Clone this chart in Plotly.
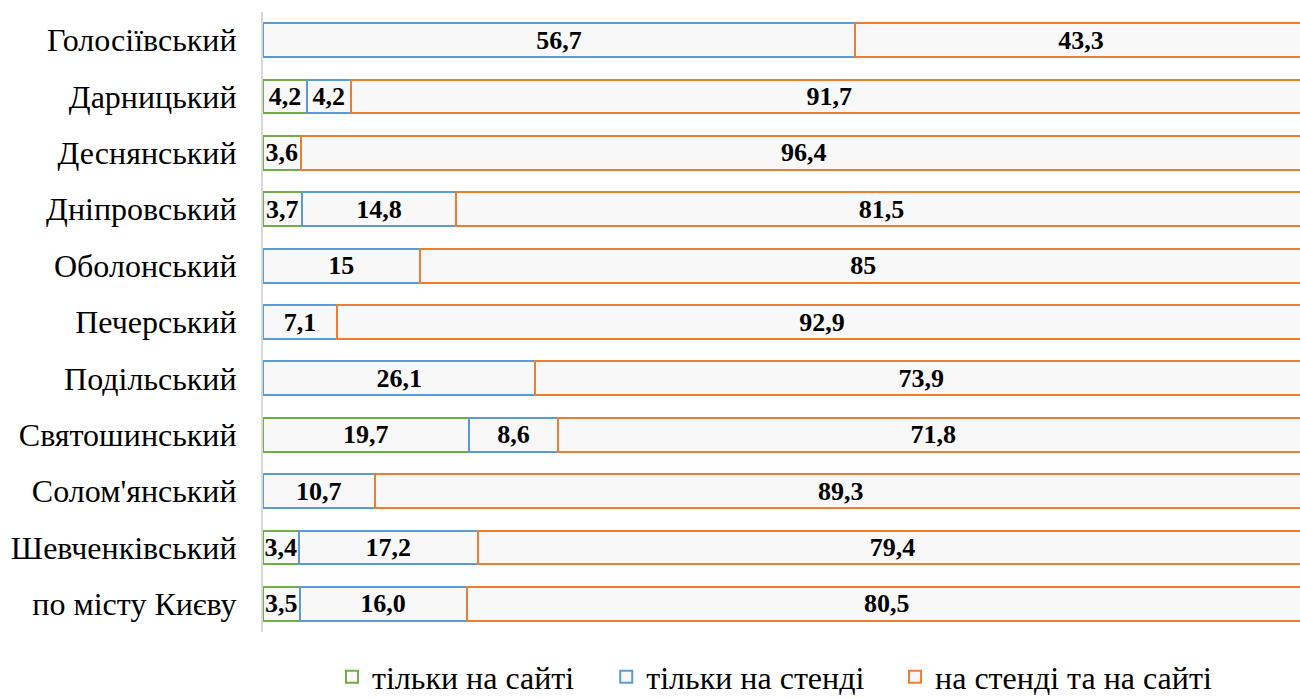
import plotly.graph_objects as go

categories = ["Голосіївський", "Дарницький", "Деснянський", "Дніпровський", "Оболонський",
              "Печерський", "Подільський", "Святошинський", "Солом'янський", "Шевченківський",
              "по місту Києву"]
site_only = [0, 4.2, 3.6, 3.7, 0, 0, 0, 19.7, 0, 3.4, 3.5]
stand_only = [56.7, 4.2, 0, 14.8, 15, 7.1, 26.1, 8.6, 10.7, 17.2, 16.0]
both = [43.3, 91.7, 96.4, 81.5, 85, 92.9, 73.9, 71.8, 89.3, 79.4, 80.5]
site_labels = ["", "4,2", "3,6", "3,7", "", "", "", "19,7", "", "3,4", "3,5"]
stand_labels = ["56,7", "4,2", "", "14,8", "15", "7,1", "26,1", "8,6", "10,7", "17,2", "16,0"]
both_labels = ["43,3", "91,7", "96,4", "81,5", "85", "92,9", "73,9", "71,8", "89,3", "79,4", "80,5"]
series_names = ["тільки на сайті", "тільки на стенді", "на стенді та на сайті"]

colors = ["#70ad47", "#5b9bd5", "#ed7d31"]
fill = "#f8f8f8"
legend_ids = ["legend", "legend2", "legend3"]
legend_x = [0.0665, 0.331, 0.6095]

fig = go.Figure()
for vals, labs, name, col, lid in zip([site_only, stand_only, both],
                                      [site_labels, stand_labels, both_labels],
                                      series_names, colors, legend_ids):
    fig.add_trace(go.Bar(
        y=categories, x=vals, name=name, orientation="h", legend=lid,
        text=labs, textposition="inside", insidetextanchor="middle",
        textangle=0, constraintext="none",
        textfont=dict(family="Liberation Serif", size=26, color="black", weight="bold"),
        marker=dict(color=fill, line=dict(color=col, width=2)),
        hoverinfo="x+name",
    ))

legend_style = dict(orientation="h", xanchor="left", y=-0.0726, yanchor="middle",
                    font=dict(family="Liberation Serif", size=32, color="black"),
                    itemwidth=30, bgcolor="rgba(0,0,0,0)")

fig.update_layout(
    barmode="stack",
    bargap=0.40,
    width=1300, height=698,
    margin=dict(l=263, r=0, t=12, b=66, autoexpand=False),
    paper_bgcolor="white", plot_bgcolor="white",
    font=dict(family="Liberation Serif", size=32, color="black"),
    xaxis=dict(range=[0, 99.33], showgrid=False, zeroline=False, showticklabels=False,
               showline=False, fixedrange=True),
    yaxis=dict(autorange="reversed", showline=True, linecolor="#d9d9d9", linewidth=2,
               ticks="", ticklabelstandoff=18, showgrid=False,
               tickfont=dict(family="Liberation Serif", size=32, color="black")),
    showlegend=True,
)
for lid, lx in zip(legend_ids, legend_x):
    fig.update_layout({lid: dict(legend_style, x=lx)})

fig.write_html("out.html", config={"displayModeBar": False},
               post_script="document.body.style.margin='0';document.body.style.overflow='hidden';")
